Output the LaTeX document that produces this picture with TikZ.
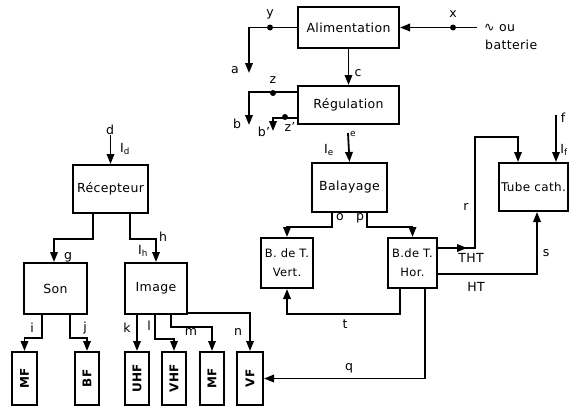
\documentclass[tikz,border=0pt]{standalone}
\usepackage{fontspec}
\setmainfont{DejaVu Sans}[LetterSpace=3]
\newfontfamily\dvs{DejaVu Sans}
\usetikzlibrary{arrows.meta,calc}
\begin{document}
\begin{tikzpicture}[x=1pt,y=-1pt,
  box/.style={draw,line width=2pt,inner sep=1pt,font=\fontsize{12.5}{14}\selectfont,align=center},
  vbox/.style={draw,line width=2pt,inner sep=0pt,minimum width=24pt,minimum height=53pt},
  vtxt/.style={rotate=90,font=\bfseries\fontsize{12}{14}\selectfont},
  arr/.style={line width=1.8pt,-{Triangle[length=10pt,width=7.5pt]}},
  lab/.style={font=\fontsize{12.5}{14}\selectfont,inner sep=0pt},
  dot/.style={circle,fill,inner sep=0pt,minimum size=6pt}]
\useasboundingbox (0,0) rectangle (569,407);
% boxes
\node[box,minimum width=101pt,minimum height=41pt] (Alim) at (348.5,27.5) {Alimentation};
\node[box,minimum width=101pt,minimum height=38pt] (Reg) at (348.5,105) {Régulation};
\node[box,minimum width=75pt,minimum height=49pt] (Bal) at (349.5,187.5) {Balayage};
\node[box,minimum width=52pt,minimum height=50pt,font=\fontsize{11.5}{19}\selectfont] (Vert) at (287,263) {B. de T.\\Vert.};
\node[box,minimum width=49pt,minimum height=50pt,font=\fontsize{11.5}{19}\selectfont] (Hor) at (412.5,263) {B.de T.\\Hor.};
\node[box,minimum width=69pt,minimum height=48pt,font=\fontsize{12}{14}\selectfont] (Tube) at (533.5,187) {Tube cath.};
\node[box,minimum width=75pt,minimum height=48pt] (Rec) at (110.5,189) {Récepteur};
\node[box,minimum width=63pt,minimum height=51pt] (Son) at (55.5,288.5) {Son};
\node[box,minimum width=62pt,minimum height=51pt] (Img) at (156,288.5) {Image};
\node[vbox,minimum width=25pt] (MFa) at (24.5,378.5) {};
\node[vbox] (BF) at (87,378.5) {};
\node[vbox] (UHF) at (137,378.5) {};
\node[vbox] (VHF) at (174,378.5) {};
\node[vbox] (MFb) at (212,378.5) {};
\node[vbox,minimum width=26pt] (VF) at (250,378.5) {};
\node[vtxt] at (MFa) {MF};
\node[vtxt] at (BF) {BF};
\node[vtxt] at (UHF) {UHF};
\node[vtxt] at (VHF) {VHF};
\node[vtxt] at (MFb) {MF};
\node[vtxt] at (VF) {VF};
% free ends
\coordinate (xin) at (477,27.5);
\coordinate (aend) at (249,73);
\coordinate (bend) at (249,125);
\coordinate (bpend) at (273,131);
\coordinate (etop) at (348,133);
\coordinate (rk) at (475,137);
\coordinate (ftop) at (556,115);
\coordinate (dtop) at (110.5,135);
% top connectors
\draw[arr] (xin) -- (Alim.east);
\node[dot] (xd) at (453,27.5) {};
\draw[arr] (Alim.west) -| (aend);
\node[dot] (yd) at (270,27.5) {};
\draw[arr] (Alim.south) -- (Reg.north);
\draw[arr] ([yshift=-7pt]Reg.north west) -| (bend);
\node[dot] (zd) at (273,93) {};
\draw[arr] ([yshift=7pt]Reg.south west) -| (bpend);
\node[dot] (zpd) at (285,117) {};
\draw[arr] (etop) -- (Bal.north);
\draw[arr] ([xshift=-17.5pt]Bal.south) -- ++(0,14) -| (Vert.north);
\draw[arr] ([xshift=17.5pt]Bal.south) -- ++(0,14) -| (Hor.north);
\draw[arr] ([yshift=15pt]Hor.east) -- ++(29,0);
\draw[arr] ([yshift=15pt]Hor.east) -| (rk) -| ([xshift=-15.5pt]Tube.north);
\draw[arr] (ftop) -- (ftop |- Tube.north);
\draw[arr] ([yshift=-11pt]Hor.east) -| ([xshift=3.5pt]Tube.south);
\draw[arr] ([xshift=-12.5pt]Hor.south) -- ++(0,25) -| (Vert.south);
\draw[arr] ([xshift=12.5pt]Hor.south) |- (VF.east);
% left connectors
\draw[arr] (dtop) -- (Rec.north);
\draw[arr] ([xshift=-17.5pt]Rec.south) -- ++(0,25) -| ([xshift=-1.5pt]Son.north);
\draw[arr] ([xshift=19.5pt]Rec.south) -- ++(0,25) -| (Img.north);
\draw[arr] ([xshift=-13.5pt]Son.south) -- ++(0,23) -| (MFa.north);
\draw[arr] ([xshift=14.5pt]Son.south) -- ++(0,23) -| (BF.north);
\draw[arr] (UHF.north |- Img.south) -- (UHF.north);
\draw[arr] ([xshift=-1pt]Img.south) -- ++(0,24) -| (VHF.north);
\draw[arr] ([xshift=15pt]Img.south) -- ++(0,12) -| (MFb.north);
\draw[arr] ([yshift=2pt]Img.south east) -| (VF.north);
% labels
\node[lab,anchor=west] at (484,28) {{\dvs ∿} ou};
\node[lab,anchor=west] at (485,45) {batterie};
\node[lab] at (453,14) {x};
\node[lab] at (270,14) {y};
\node[lab] at (235,70) {a};
\node[lab] at (358,73) {c};
\node[lab] at (273,80) {z};
\node[lab] at (237,124) {b};
\node[lab] at (290,127) {z'};
\node[lab] at (264,132) {b'};
\node[lab] at (353,134) {\fontsize{9}{10}\selectfont e};
\node[lab] at (329,150) {I\textsubscript{e}};
\node[lab] at (340,217) {o};
\node[lab] at (360,218) {p};
\node[lab] at (466,207) {r};
\node[lab] at (471,258) {THT};
\node[lab] at (476,287) {HT};
\node[lab] at (546,253) {s};
\node[lab] at (345,324) {t};
\node[lab] at (349,368) {q};
\node[lab] at (563,118) {f};
\node[lab] at (564,150) {I\textsubscript{f}};
\node[lab] at (110,130) {d};
\node[lab] at (125,149) {I\textsubscript{d}};
\node[lab] at (68,257) {g};
\node[lab] at (163,237) {h};
\node[lab] at (143,251) {I\textsubscript{h}};
\node[lab] at (32,328) {i};
\node[lab] at (85,328) {j};
\node[lab] at (127,328) {k};
\node[lab] at (149,326) {l};
\node[lab] at (191,332) {m};
\node[lab] at (238,332) {n};
\end{tikzpicture}
\end{document}
